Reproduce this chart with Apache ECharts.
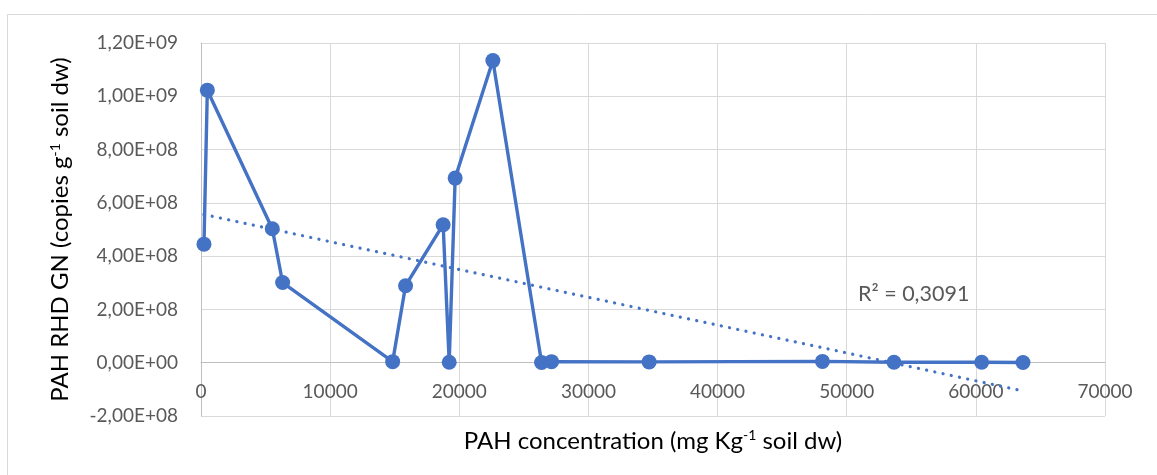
<!DOCTYPE html>
<html>
<head>
<meta charset="utf-8">
<script src="https://cdn.jsdelivr.net/npm/echarts@6/dist/echarts.min.js"></script>
<style>
  html, body { margin: 0; padding: 0; background: #ffffff; }
  #chart { width: 1157px; height: 475px; }
</style>
</head>
<body>
<div id="chart"></div>
<script>
// PAH concentration (mg Kg-1 soil dw) for each soil sample
const pahConcentration = [230, 490, 5520, 6320, 14840, 15840, 18750, 19220, 19680,
  22600, 26370, 27140, 34700, 48120, 53660, 60450, 63650];
// PAH RHD GN gene copies per g soil dw for the same samples
const geneCopies = [4.45e8, 1.023e9, 5.03e8, 3.01e8, 4e6, 2.89e8, 5.18e8, 2e6, 6.93e8,
  1.134e9, 1e6, 4e6, 3e6, 5e6, 2e6, 2e6, 1e6];
const rSquaredLabel = 'R² = 0,3091';

const BLUE = '#4472C4';
const FONT = 'Lato, "Open Sans", sans-serif';

const Y_MIN = -2e8, Y_MAX = 1.2e9;
const GRID = { left: 201, right: 52, top: 43, bottom: 59 };
const CHART_H = 475;

// Least-squares linear trend over the sample points
function linearFit(xs, ys) {
  const n = xs.length;
  const mx = xs.reduce((a, b) => a + b, 0) / n;
  const my = ys.reduce((a, b) => a + b, 0) / n;
  let sxy = 0, sxx = 0;
  for (let i = 0; i < n; i++) {
    sxy += (xs[i] - mx) * (ys[i] - my);
    sxx += (xs[i] - mx) * (xs[i] - mx);
  }
  const slope = sxy / sxx;
  return { slope, intercept: my - slope * mx };
}
const fit = linearFit(pahConcentration, geneCopies);
const xMin = Math.min(...pahConcentration);
const xMax = Math.max(...pahConcentration);
const trend = [xMin, xMax].map(x => [x, fit.intercept + fit.slope * x]);

const points = pahConcentration.map((x, i) => [x, geneCopies[i]]);

// Scientific notation with a decimal comma, e.g. 1,20E+09
function sci(v) {
  if (v === 0) return '0,00E+00';
  const e = Math.floor(Math.log10(Math.abs(v)) + 1e-12);
  const m = v / Math.pow(10, e);
  return m.toFixed(2).replace('.', ',') + 'E' + (e < 0 ? '-' : '+') + String(Math.abs(e)).padStart(2, '0');
}

// The horizontal axis crosses the vertical one at y = 0
const plotH = CHART_H - GRID.top - GRID.bottom;
const zeroOffset = -plotH * (0 - Y_MIN) / (Y_MAX - Y_MIN);

const chart = echarts.init(document.getElementById('chart'), null, { renderer: 'canvas' });

const titleRich = {
  t: { fontFamily: FONT, fontSize: 24, color: '#000000', lineHeight: 29 },
  s: { fontFamily: FONT, fontSize: 14, color: '#000000', verticalAlign: 'top', padding: [2, 0, 0, 0] }
};

chart.setOption({
  backgroundColor: '#ffffff',
  animation: false,
  grid: Object.assign({ outerBoundsMode: 'none' }, GRID),
  xAxis: {
    type: 'value',
    min: 0, max: 70000, interval: 10000,
    offset: zeroOffset,
    name: '{t|PAH concentration (mg Kg}{s|-1}{t| soil dw)}',
    nameLocation: 'middle',
    nameGap: 64,
    nameTextStyle: { rich: titleRich },
    axisLine: { show: true, onZero: false, lineStyle: { color: '#bfbfbf', width: 1 } },
    axisTick: { show: false },
    axisLabel: {
      color: '#595959', fontFamily: FONT, fontSize: 19, margin: 20,
      showMinLabel: true, showMaxLabel: true,
      formatter: v => String(v)
    },
    splitLine: { show: true, lineStyle: { color: '#d9d9d9', width: 1 } }
  },
  yAxis: {
    type: 'value',
    min: Y_MIN, max: Y_MAX, interval: 2e8,
    name: '{t|PAH RHD GN (copies g}{s|-1}{t| soil dw)}',
    nameLocation: 'middle',
    nameRotate: 90,
    nameGap: 126,
    nameTextStyle: { rich: titleRich },
    axisLine: { show: true, onZero: false, lineStyle: { color: '#bfbfbf', width: 1 } },
    axisTick: { show: false },
    axisLabel: { color: '#595959', fontFamily: FONT, fontSize: 19, margin: 23, formatter: sci },
    splitLine: { show: true, lineStyle: { color: '#d9d9d9', width: 1 } }
  },
  series: [
    {
      name: 'Linear trend',
      type: 'line',
      data: trend,
      showSymbol: false,
      symbol: 'none',
      z: 1,
      lineStyle: { color: BLUE, width: 3.2, type: [0.1, 8.3], cap: 'round' },
      silent: true
    },
    {
      name: 'PAH RHD GN',
      type: 'line',
      data: points,
      z: 2,
      symbol: 'circle',
      symbolSize: 15,
      itemStyle: { color: BLUE },
      lineStyle: { color: BLUE, width: 3.4 }
    }
  ],
  graphic: [
    {
      type: 'rect',
      silent: true,
      z: -10,
      shape: { x: 7.5, y: 14.5, width: 1200, height: 500 },
      style: { fill: 'none', stroke: '#d9d9d9', lineWidth: 1 }
    },
    {
      type: 'text',
      left: 858,
      top: 283,
      style: { text: rSquaredLabel, fill: '#595959', fontFamily: FONT, fontSize: 21.5 }
    }
  ]
});
</script>
</body>
</html>
